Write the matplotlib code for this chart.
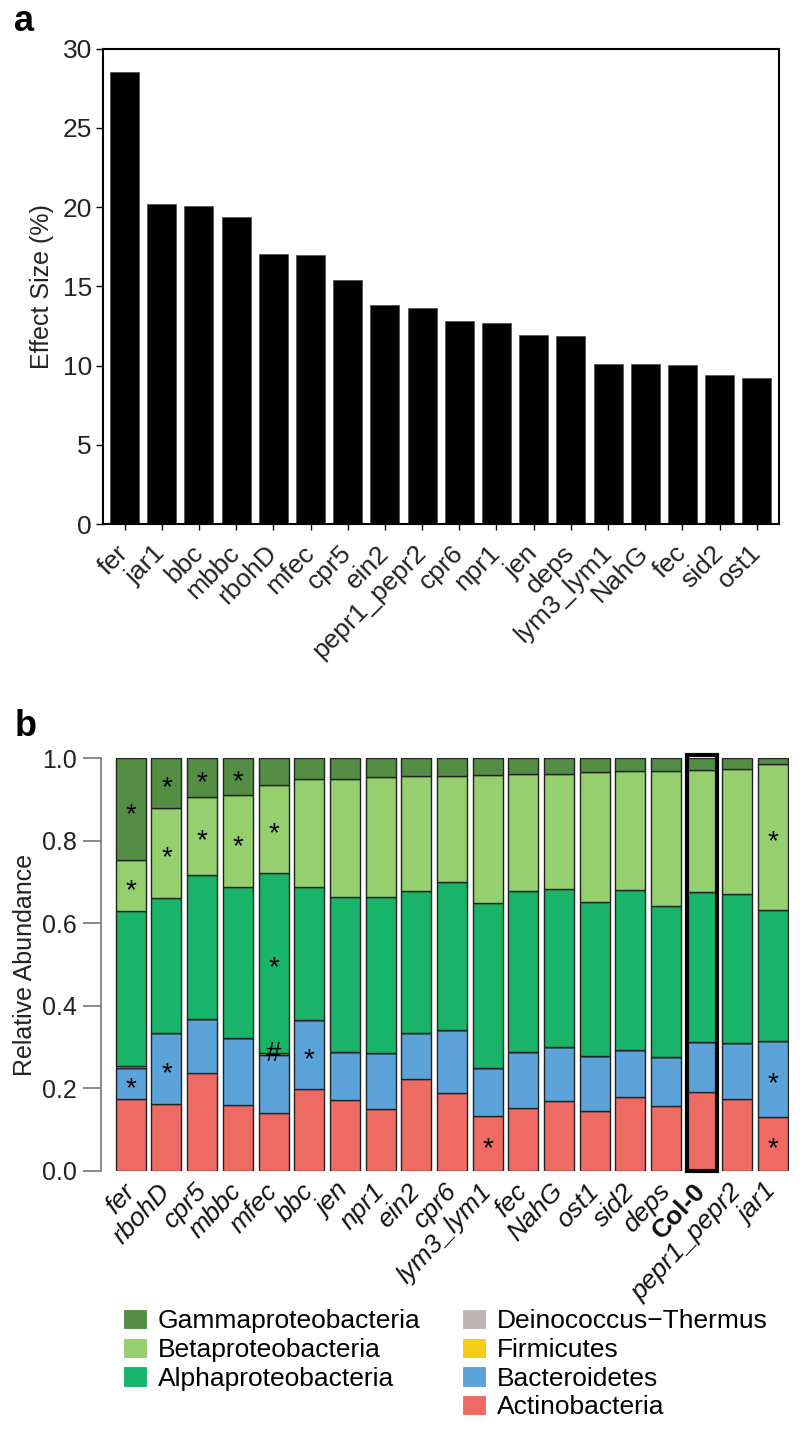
import matplotlib
matplotlib.use('Agg')
import matplotlib.pyplot as plt
from matplotlib.patches import Patch, Rectangle
import numpy as np

plt.rcParams['font.family'] = ['Liberation Sans', 'DejaVu Sans']

# panel a: effect size per genotype
genotypes_a = ['fer', 'jar1', 'bbc', 'mbbc', 'rbohD', 'mfec', 'cpr5', 'ein2', 'pepr1_pepr2',
               'cpr6', 'npr1', 'jen', 'deps', 'lym3_lym1', 'NahG', 'fec', 'sid2', 'ost1']
effect_size = [28.5, 20.2, 20.1, 19.4, 17.05, 16.97, 15.43, 13.84, 13.67,
               12.85, 12.72, 11.94, 11.90, 10.13, 10.09, 10.03, 9.40, 9.21]

# panel b: relative abundance per genotype and taxon
genotypes_b = ['fer', 'rbohD', 'cpr5', 'mbbc', 'mfec', 'bbc', 'jen', 'npr1', 'ein2', 'cpr6',
               'lym3_lym1', 'fec', 'NahG', 'ost1', 'sid2', 'deps', 'Col-0', 'pepr1_pepr2', 'jar1']
actinobacteria = [0.173, 0.161, 0.236, 0.160, 0.141, 0.199, 0.171, 0.149, 0.223, 0.188,
                  0.132, 0.152, 0.170, 0.145, 0.178, 0.158, 0.191, 0.175, 0.131]
bacteroidetes = [0.077, 0.173, 0.131, 0.162, 0.140, 0.166, 0.117, 0.137, 0.110, 0.154,
                 0.116, 0.137, 0.130, 0.132, 0.115, 0.118, 0.122, 0.135, 0.183]
firmicutes = [0, 0, 0, 0, 0.005, 0, 0, 0, 0, 0,
              0, 0, 0, 0, 0, 0, 0, 0, 0]
deinococcus = [0.003, 0, 0, 0, 0, 0, 0, 0, 0, 0,
               0, 0, 0, 0, 0, 0, 0, 0, 0]
alphaproteo = [0.377, 0.327, 0.349, 0.365, 0.436, 0.323, 0.376, 0.377, 0.345, 0.359,
               0.401, 0.390, 0.383, 0.374, 0.387, 0.366, 0.363, 0.360, 0.319]
betaproteo = [0.123, 0.219, 0.191, 0.223, 0.214, 0.262, 0.286, 0.291, 0.280, 0.257,
              0.311, 0.282, 0.280, 0.315, 0.288, 0.328, 0.296, 0.303, 0.354]
gammaproteo = [0.247, 0.120, 0.093, 0.090, 0.064, 0.050, 0.050, 0.046, 0.042, 0.042,
               0.040, 0.039, 0.037, 0.034, 0.032, 0.030, 0.028, 0.027, 0.013]

taxa = ['Actinobacteria', 'Bacteroidetes', 'Firmicutes', 'Deinococcus\u2212Thermus',
        'Alphaproteobacteria', 'Betaproteobacteria', 'Gammaproteobacteria']
taxa_values = [actinobacteria, bacteroidetes, firmicutes, deinococcus,
               alphaproteo, betaproteo, gammaproteo]
taxa_colors = ['#ED6B63', '#5BA3D9', '#F4CD16', '#BEB4B4', '#17B46A', '#96CF6E', '#548E44']

# significance marks: (genotype, taxon index, symbol)
marks = [('fer', 6, '*'), ('fer', 5, '*'), ('fer', 1, '*'),
         ('rbohD', 6, '*'), ('rbohD', 5, '*'), ('rbohD', 1, '*'),
         ('cpr5', 6, '*'), ('cpr5', 5, '*'),
         ('mbbc', 6, '*'), ('mbbc', 5, '*'),
         ('mfec', 5, '*'), ('mfec', 4, '*'), ('mfec', 2, '#'),
         ('bbc', 1, '*'),
         ('lym3_lym1', 0, '*'),
         ('jar1', 5, '*'), ('jar1', 1, '*'), ('jar1', 0, '*')]

fig = plt.figure(figsize=(8, 14.34), dpi=100)

# ---- panel a ----
ax1 = fig.add_axes([0.1288, 0.6344, 0.8446, 0.3317])
xa = np.arange(len(genotypes_a))
ax1.bar(xa, effect_size, width=0.78, color='black', edgecolor='#555555', linewidth=0.6)
ax1.set_xlim(-0.58, len(genotypes_a) - 0.41)
ax1.set_ylim(0, 30)
ax1.set_yticks([0, 5, 10, 15, 20, 25, 30])
ax1.set_xticks(xa)
ax1.set_xticklabels(genotypes_a, rotation=45, ha='right', va='center',
                    rotation_mode='anchor', fontsize=19, color='#222222')
ax1.tick_params(axis='y', labelsize=19, labelcolor='#222222', length=5, width=1, pad=3)
ax1.tick_params(axis='x', length=4, width=1, pad=14)
for s in ax1.spines.values():
    s.set_linewidth(1.5)
ax1.set_ylabel('Effect Size (%)', fontsize=18, color='#222222', labelpad=6)

# ---- panel b ----
ax2 = fig.add_axes([0.126, 0.1836, 0.860, 0.2876])
xb = np.arange(len(genotypes_b))
bottom = np.zeros(len(genotypes_b))
seg_bottom = []
for vals, col in zip(taxa_values, taxa_colors):
    vals = np.array(vals)
    ax2.bar(xb, vals, bottom=bottom, width=0.84, color=col, edgecolor='#222222', linewidth=1.0)
    seg_bottom.append(bottom.copy())
    bottom = bottom + vals

for g, ti, sym in marks:
    i = genotypes_b.index(g)
    yc = seg_bottom[ti][i] + taxa_values[ti][i] / 2
    ax2.annotate(sym, (i, yc), xytext=(0, -4 if sym == '*' else 0), textcoords='offset points',
                 ha='center', va='center', fontsize=20, color='black')

# highlight Col-0
ci = genotypes_b.index('Col-0')
ax2.add_patch(Rectangle((ci - 0.42, 0), 0.84, 1.008, fill=False, edgecolor='black',
                        linewidth=3, clip_on=False, zorder=5))

ax2.set_xlim(-0.84, len(genotypes_b) - 0.56)
ax2.set_ylim(0, 1.0)
ax2.set_yticks([0, 0.2, 0.4, 0.6, 0.8, 1.0])
ax2.set_yticklabels(['0.0', '0.2', '0.4', '0.6', '0.8', '1.0'])
ax2.tick_params(axis='y', labelsize=18, labelcolor='#222222', length=13, width=1.2,
                color='#777777', pad=4)
ax2.set_xticks(xb)
ax2.set_xticklabels(genotypes_b, rotation=47, ha='right', va='center', rotation_mode='anchor',
                    fontsize=19, fontstyle='italic', color='#111111')
ax2.tick_params(axis='x', length=0, pad=12)
for lab in ax2.get_xticklabels():
    if lab.get_text() == 'Col-0':
        lab.set_fontstyle('normal')
        lab.set_fontweight('bold')
for side in ['top', 'right', 'bottom']:
    ax2.spines[side].set_visible(False)
ax2.spines['left'].set_color('#777777')
ax2.spines['left'].set_linewidth(1.2)
ax2.set_ylabel('Relative Abundance', fontsize=18, color='#222222', labelpad=4)

# panel letters
fig.text(0.018, 0.985, 'a', fontsize=26, fontweight='bold', va='center')
fig.text(0.018, 0.4937, 'b', fontsize=26, fontweight='bold', va='center')

# legend: left column three entries, right column four
order = [6, 5, 4, None, 3, 2, 1, 0]
handles, labels = [], []
for k in order:
    if k is None:
        handles.append(Patch(facecolor='none', edgecolor='none'))
        labels.append('')
    else:
        handles.append(Patch(facecolor=taxa_colors[k], edgecolor='white', linewidth=0.8))
        labels.append(taxa[k])
fig.legend(handles, labels, ncol=2, loc='upper left', bbox_to_anchor=(0.154, 0.0872),
           frameon=False, fontsize=19, handlelength=0.9, handleheight=0.8,
           labelspacing=0.17, columnspacing=1.6, handletextpad=0.4, borderaxespad=0,
           borderpad=0)

fig.savefig('out.png', dpi=100)
